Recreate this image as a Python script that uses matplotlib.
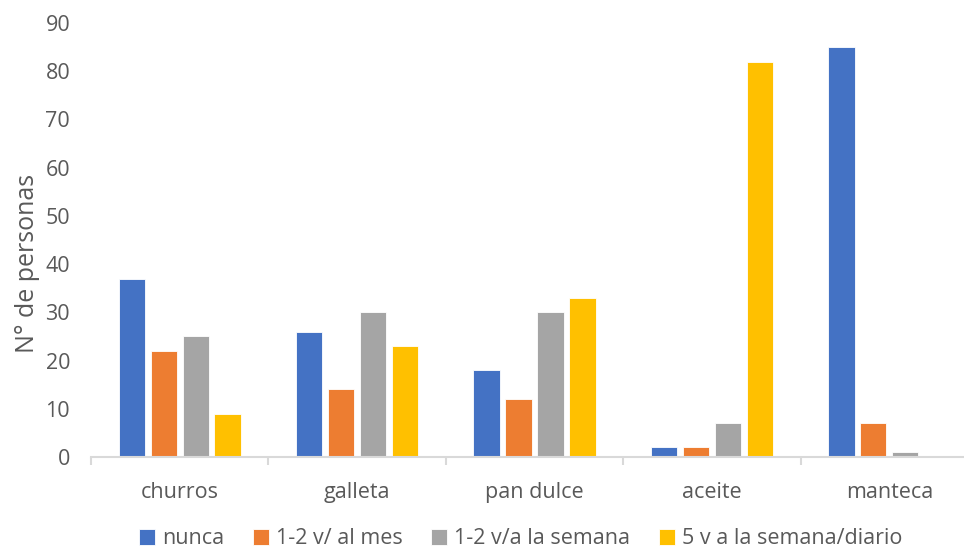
import matplotlib
matplotlib.use("Agg")
import matplotlib.pyplot as plt
import numpy as np

categories = ["churros", "galleta", "pan dulce", "aceite", "manteca"]
series_names = ["nunca", "1-2 v/ al mes", "1-2 v/a la semana", "5 v a la semana/diario"]
nunca = [37, 26, 18, 2, 85]
al_mes = [22, 14, 12, 2, 7]
semana = [25, 30, 30, 7, 1]
diario = [9, 23, 33, 82, 0]
colors = ["#4472C4", "#ED7D31", "#A5A5A5", "#FFC000"]

plt.rcParams["font.family"] = ["Open Sans", "DejaVu Sans"]
text_color = "#595959"

fig = plt.figure(figsize=(9.64, 5.52), dpi=100)
ax = fig.add_axes([91 / 964, 1 - 457 / 552, 887 / 964, (457 - 23) / 552])

x = np.arange(len(categories))
step = 0.18
width = 0.148
offsets = (np.arange(4) - 1.5) * step
for vals, name, c, off in zip([nunca, al_mes, semana, diario], series_names, colors, offsets):
    ax.bar(x + off, vals, width, color=c, label=name, edgecolor="white", linewidth=0.6)

ax.set_xlim(-0.5, len(categories) - 0.5)
ax.set_ylim(0, 90)
ax.set_yticks(np.arange(0, 91, 10))
ax.tick_params(axis="y", length=0, labelsize=15.5, labelcolor=text_color, pad=15)

ax.set_xticks(x)
ax.set_xticklabels(categories)
ax.tick_params(axis="x", length=0, labelsize=15.5, labelcolor=text_color, pad=18)
ax.set_xticks(np.arange(-0.5, len(categories), 1), minor=True)
ax.tick_params(axis="x", which="minor", length=6, width=1.5, color="#D9D9D9")

for s in ["top", "right", "left"]:
    ax.spines[s].set_visible(False)
ax.spines["bottom"].set_color("#D9D9D9")
ax.spines["bottom"].set_linewidth(1.5)

ax.set_ylabel("N° de personas", fontsize=18, color=text_color)
ax.yaxis.set_label_coords(-0.058, 0.447)

fig.legend(loc="lower center", bbox_to_anchor=(0.54, -0.03), ncol=4, frameon=False,
           fontsize=15.5, labelcolor=text_color, handlelength=0.75, handleheight=0.75,
           handletextpad=0.3, columnspacing=1.35)

fig.savefig("out.png", dpi=100)
